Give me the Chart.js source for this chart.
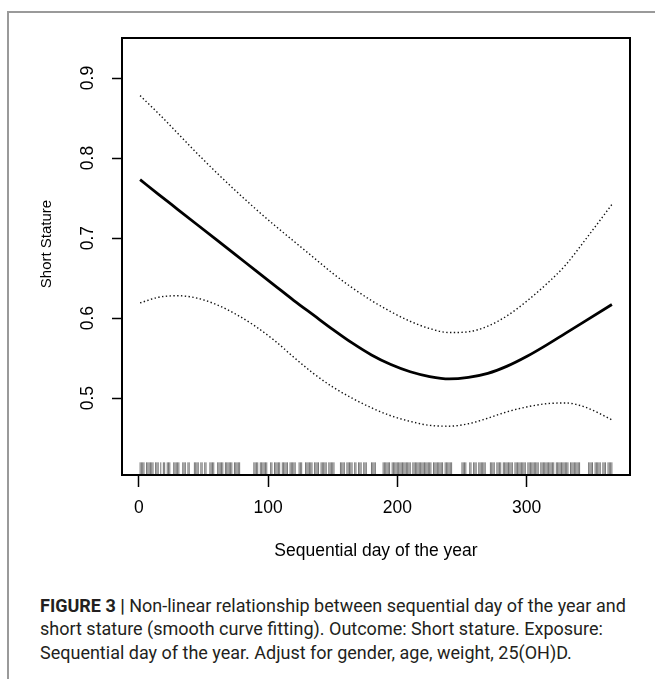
<!DOCTYPE html>
<html>
<head>
<meta charset="utf-8">
<script src="https://cdn.jsdelivr.net/npm/chart.js@4.4.1/dist/chart.umd.min.js"></script>
<style>
  body { margin: 0; background: #fff; width: 655px; height: 679px; overflow: hidden; position: relative; }
  #frame { position: absolute; left: 7px; top: 11px; width: 700px; height: 700px; border-top: 2px solid #9a9a9a; border-left: 2px solid #9a9a9a; }
  #chart { position: absolute; left: 0; top: 0; }
  #caption { position: absolute; left: 40px; top: 594px; font-family: Roboto, "Liberation Sans", sans-serif; font-size: 18px; line-height: 23.4px; color: #231f20; white-space: nowrap; }
  #caption b { font-weight: 700; }
</style>
</head>
<body>
<div id="frame"></div>
<canvas id="chart" width="655" height="590"></canvas>
<div id="caption"><b>FIGURE 3 |</b> Non-linear relationship between sequential day of the year and<br>short stature (smooth curve fitting). Outcome: Short stature. Exposure:<br>Sequential day of the year. Adjust for gender, age, weight, 25(OH)D.</div>
<script>
// sequential day of the year at which the curves were read
const days = [1, 15, 30, 45, 60, 75, 90, 105, 120, 135, 150, 165, 180, 195, 210, 225, 240, 255, 270, 285, 300, 315, 330, 345, 366];

// smooth curve fit and its confidence band
const fitValues = [0.773, 0.755, 0.736, 0.717, 0.698, 0.679, 0.660, 0.641, 0.622, 0.604, 0.586, 0.569, 0.554, 0.542, 0.533, 0.527, 0.524, 0.526, 0.531, 0.540, 0.552, 0.566, 0.581, 0.596, 0.617];
const upperValues = [0.878, 0.856, 0.831, 0.806, 0.782, 0.759, 0.737, 0.716, 0.696, 0.676, 0.656, 0.638, 0.622, 0.608, 0.596, 0.587, 0.582, 0.583, 0.590, 0.603, 0.621, 0.642, 0.666, 0.697, 0.742];
const lowerValues = [0.619, 0.626, 0.628, 0.625, 0.617, 0.605, 0.590, 0.572, 0.551, 0.531, 0.514, 0.500, 0.488, 0.478, 0.471, 0.466, 0.465, 0.468, 0.475, 0.483, 0.489, 0.493, 0.494, 0.489, 0.473];

// days that have observations (rug along the x axis)
const rugDays = [
  1, 2, 3, 4, 6, 7, 8, 9, 10, 11, 13, 14, 15, 17, 19, 20, 22, 23, 24, 27, 28, 29, 30, 31, 34, 35, 36, 38, 39,
  43, 44, 45, 46, 48, 49, 51, 52, 55, 56, 57, 58, 61, 62, 63, 64, 65, 67, 68, 69, 70, 71, 72, 74, 75, 76, 77, 78,
  89, 90, 91, 92, 94, 95, 96, 97, 98, 99, 102, 103, 105, 106, 107, 108, 109, 111, 112, 113, 114, 115, 117, 118,
  119, 120, 121, 124, 125, 126, 129, 130, 131, 132, 133, 134, 136, 137, 138, 139, 141, 142, 143, 144, 145, 147,
  148, 149, 150, 151, 156, 157, 158, 159, 161, 162, 163, 164, 165, 167, 168, 170, 171, 172, 174, 175, 176, 180,
  181, 182, 183, 189, 190, 191, 192, 193, 194, 196, 197, 198, 199, 200, 201, 202, 203, 204, 205, 206, 207, 208,
  209, 210, 212, 213, 214, 215, 216, 217, 218, 219, 220, 221, 222, 223, 224, 225, 226, 228, 229, 230, 231, 232,
  233, 234, 235, 237, 238, 239, 240, 241, 242, 250, 251, 252, 253, 256, 257, 259, 260, 261, 263, 264, 265, 266,
  267, 268, 272, 273, 274, 275, 277, 278, 279, 280, 282, 283, 284, 285, 286, 287, 288, 289, 291, 292, 293, 294,
  295, 296, 297, 298, 299, 301, 302, 303, 304, 305, 306, 307, 308, 309, 311, 312, 313, 314, 315, 316, 317, 318,
  319, 320, 321, 323, 324, 325, 326, 327, 328, 329, 330, 331, 332, 334, 335, 336, 337, 338, 339, 340, 341, 348,
  349, 350, 351, 353, 354, 355, 356, 357, 359, 360, 361, 363, 364, 365, 366
];

const xTicks = [0, 100, 200, 300];
const yTicks = [0.5, 0.6, 0.7, 0.8, 0.9];
const xRange = [-13, 380];
const yRange = [0.404, 0.950];
const rugLevel = 0.4117;

Chart.defaults.font.family = '"Liberation Sans", Arial, sans-serif';
Chart.defaults.color = '#000';

function curve(values, dashed) {
    return {
        data: days.map((d, i) => ({ x: d, y: values[i] })),
        showLine: true,
        borderColor: dashed ? '#111' : '#000',
        borderWidth: dashed ? 1.4 : 2.8,
        borderDash: dashed ? [1.4, 2.4] : [],
        pointRadius: 0,
        cubicInterpolationMode: 'monotone'
    };
}

function frameAxis(position) {
    return {
        type: 'linear',
        position: position,
        display: true,
        grid: { display: false },
        ticks: { display: false },
        border: { color: '#000', width: 2 },
        afterFit: (s) => {
            if (position === 'top') s.height = 0; else s.width = 0;
        }
    };
}

const ctx = document.getElementById('chart').getContext('2d');
new Chart(ctx, {
    type: 'scatter',
    data: {
        datasets: [
            curve(fitValues, false),
            curve(upperValues, true),
            curve(lowerValues, true),
            {
                data: rugDays.map((d) => ({ x: d, y: rugLevel })),
                showLine: false,
                pointStyle: 'line',
                pointRotation: 90,
                pointRadius: 6.5,
                pointBorderWidth: 1,
                pointBorderColor: 'rgba(0, 0, 0, 0.55)'
            }
        ]
    },
    options: {
        responsive: false,
        animation: false,
        devicePixelRatio: 1,
        layout: { padding: { left: 0, top: 38, right: 25, bottom: 0 } },
        plugins: { legend: { display: false }, tooltip: { enabled: false } },
        scales: {
            x: {
                type: 'linear',
                position: 'bottom',
                min: xRange[0],
                max: xRange[1],
                afterBuildTicks: (s) => { s.ticks = xTicks.map((v) => ({ value: v })); },
                afterFit: (s) => { s.height = 115; },
                grid: { drawOnChartArea: false, tickLength: 12, tickColor: '#000', tickWidth: 1.5 },
                border: { color: '#000', width: 2 },
                ticks: { color: '#000', font: { size: 17.5 }, padding: 10.5, maxRotation: 0 },
                title: {
                    display: true,
                    text: 'Sequential day of the year',
                    color: '#000',
                    font: { size: 17.5 },
                    padding: { top: 0, bottom: 28 }
                }
            },
            y: {
                type: 'linear',
                position: 'left',
                min: yRange[0],
                max: yRange[1],
                afterBuildTicks: (s) => { s.ticks = yTicks.map((v) => ({ value: v })); },
                afterFit: (s) => { s.width = 122; },
                grid: { drawOnChartArea: false, tickLength: 10, tickColor: '#000', tickWidth: 1.5 },
                border: { color: '#000', width: 2 },
                ticks: {
                    color: '#000',
                    font: { size: 17.5 },
                    minRotation: 90,
                    maxRotation: 90,
                    crossAlign: 'center',
                    padding: 12,
                    callback: (v) => v.toFixed(1)
                },
                title: {
                    display: true,
                    // leading spaces nudge the label up, as in the original figure
                    text: '      Short Stature',
                    color: '#000',
                    font: { size: 15 },
                    padding: { top: 38, bottom: 0 }
                }
            },
            x2: frameAxis('top'),
            y2: frameAxis('right')
        }
    }
});
</script>
</body>
</html>
